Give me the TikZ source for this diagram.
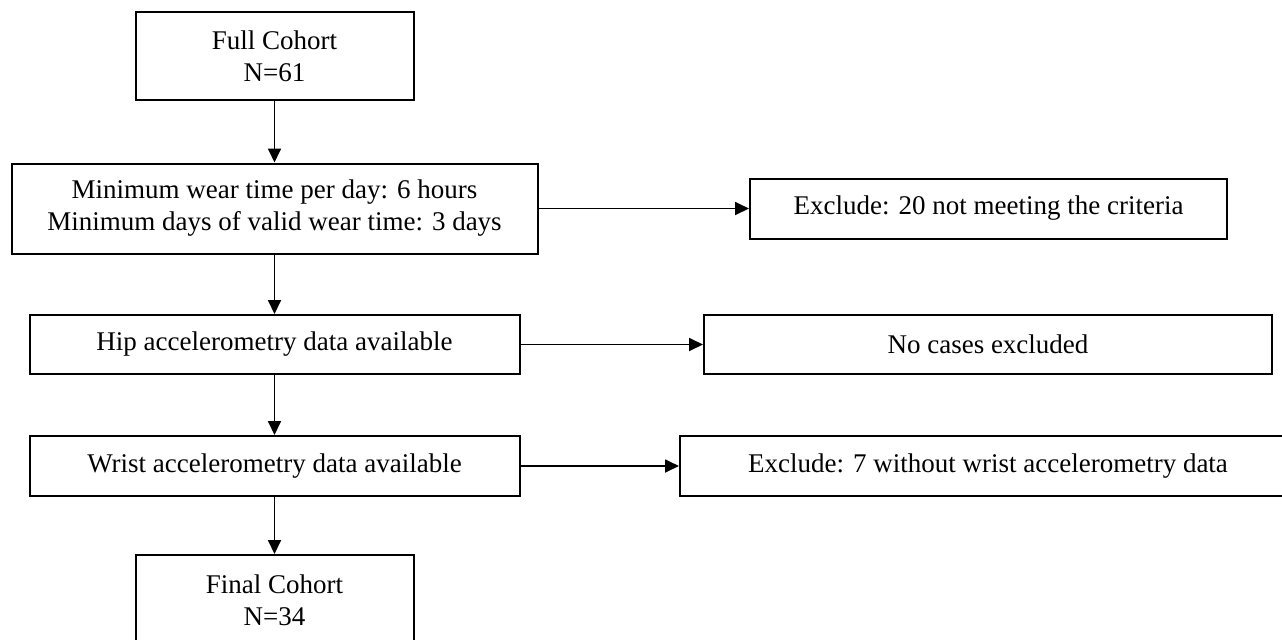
\documentclass[tikz,border=0pt]{standalone}
\usepackage{fontspec}
\setmainfont{Liberation Serif}
\usetikzlibrary{shapes,arrows.meta,positioning}

\tikzset{
    stagebox/.style={draw, line width=1pt, rectangle, align=center, inner sep=0pt,
        font=\fontsize{13.5}{16}\selectfont},
    flowarrow/.style={-{Triangle[length=7pt,width=6.5pt]}, line width=0.9pt}
}

\begin{document}
\begin{tikzpicture}[x=0.5pt, y=-0.5pt]
    \useasboundingbox (0,0) rectangle (1282,639);

    % Main column
    \node[stagebox, minimum width=139pt, minimum height=44pt] (full) at (274.5,56) {Full Cohort\\N=61};
    \node[stagebox, minimum width=263pt, minimum height=45pt] (crit) at (274.5,208.5) {Minimum wear time per day: 6 hours\\Minimum days of valid wear time: 3 days};
    \node[stagebox, minimum width=245pt, minimum height=29.5pt] (hip) at (274.5,344.5) {Hip accelerometry data available};
    \node[stagebox, minimum width=245pt, minimum height=30pt] (wrist) at (274.5,466) {Wrist accelerometry data available};
    \node[stagebox, minimum width=139pt, minimum height=45pt] (final) at (274.5,600) {Final Cohort\\N=34};

    % Exclusions
    \node[stagebox, minimum width=238.5pt, minimum height=30pt] (excrit) at (988.5,208.5) {Exclude: 20 not meeting the criteria};
    \node[stagebox, minimum width=284pt, minimum height=29.5pt] (exhip) at (988,344.5) {No cases excluded};
    \node[stagebox, minimum width=308pt, minimum height=30pt] (exwrist) at (988,466) {Exclude: 7 without wrist accelerometry data};

    % Connections
    \draw[flowarrow] (full) -- (crit);
    \draw[flowarrow] (crit) -- (hip);
    \draw[flowarrow] (hip) -- (wrist);
    \draw[flowarrow] (wrist) -- (final);
    \draw[flowarrow] (crit) -- (excrit);
    \draw[flowarrow] (hip) -- (exhip);
    \draw[flowarrow] (wrist) -- (exwrist);
\end{tikzpicture}
\end{document}
